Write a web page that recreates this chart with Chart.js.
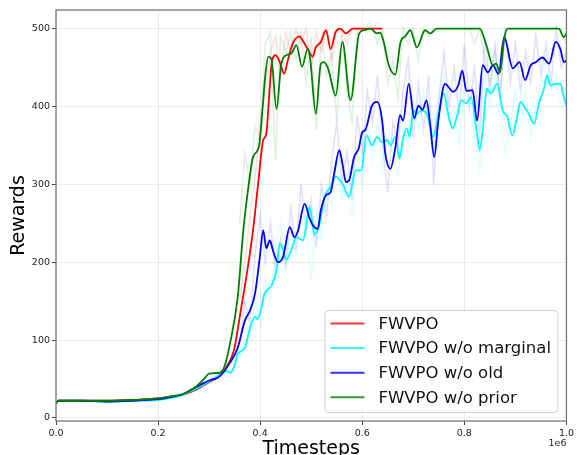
<!DOCTYPE html>
<html>
<head>
<meta charset="utf-8">
<script src="https://cdn.jsdelivr.net/npm/chart.js@4.4.0/dist/chart.umd.min.js"></script>
<style>
  html, body { margin: 0; padding: 0; background: #fff; }
</style>
</head>
<body>
<canvas id="myChart" width="577" height="455"></canvas>
<script>
const xTicks = [0, 0.2, 0.4, 0.6, 0.8, 1.0];
const yTicks = [0, 100, 200, 300, 400, 500];
const labels = ['FWVPO', 'FWVPO w/o marginal', 'FWVPO w/o old', 'FWVPO w/o prior'];
const colors = ['#ff0000', '#00ffff', '#0000ff', '#008000'];

// smoothed curves (timesteps in 1e6)
const redX = [0, 0.005, 0.05, 0.1, 0.15, 0.2, 0.22, 0.25, 0.27, 0.3,
  0.32, 0.34, 0.349, 0.363, 0.375, 0.386, 0.396, 0.406, 0.412, 0.417,
  0.422, 0.43, 0.438, 0.447, 0.454, 0.464, 0.477, 0.483, 0.493, 0.503,
  0.509, 0.519, 0.529, 0.538, 0.548, 0.557, 0.568, 0.581, 0.639];
const redY = [19, 22, 22, 22, 23, 25, 27, 30, 35, 46,
  54, 72, 88, 142, 190, 241, 301, 357, 365, 408,
  452, 466, 458, 442, 459, 481, 490, 485, 474, 464,
  476, 483, 498, 474, 496, 500, 494, 500, 500];

const cyanX = [0, 0.005, 0.05, 0.1, 0.15, 0.2, 0.22, 0.25, 0.27, 0.29,
  0.3, 0.32, 0.335, 0.342, 0.35, 0.356, 0.37, 0.38, 0.39, 0.395,
  0.409, 0.422, 0.432, 0.438, 0.445, 0.451, 0.461, 0.471, 0.484, 0.497,
  0.506, 0.516, 0.526, 0.538, 0.548, 0.561, 0.574, 0.587, 0.598, 0.608,
  0.619, 0.629, 0.639, 0.649, 0.655, 0.665, 0.673, 0.68, 0.687, 0.693,
  0.70, 0.707, 0.716, 0.726, 0.739, 0.749, 0.76, 0.768, 0.777, 0.785,
  0.794, 0.804, 0.813, 0.824, 0.83, 0.836, 0.844, 0.852, 0.864, 0.875,
  0.884, 0.894, 0.904, 0.91, 0.92, 0.926, 0.937, 0.946, 0.956, 0.962,
  0.969, 0.978, 0.988, 0.995, 1.0];
const cyanY = [19, 22, 22, 21, 22, 23, 25, 30, 36, 43,
  47, 55, 60, 58, 68, 82, 90, 115, 130, 127,
  160, 170, 190, 224, 216, 203, 216, 232, 228, 271,
  235, 248, 284, 297, 310, 301, 284, 318, 318, 363,
  350, 361, 354, 357, 350, 361, 333, 359, 372, 361,
  395, 391, 395, 391, 361, 391, 417, 391, 372, 386,
  408, 404, 412, 369, 344, 369, 423, 417, 429, 395,
  387, 363, 389, 406, 397, 391, 378, 404, 423, 440,
  427, 429, 429, 412, 401];

const blueX = [0, 0.005, 0.05, 0.1, 0.15, 0.2, 0.22, 0.25, 0.27, 0.29,
  0.3, 0.32, 0.34, 0.356, 0.37, 0.38, 0.39, 0.399, 0.406, 0.412,
  0.419, 0.425, 0.435, 0.445, 0.458, 0.467, 0.474, 0.487, 0.497, 0.506,
  0.513, 0.519, 0.529, 0.538, 0.545, 0.555, 0.561, 0.568, 0.574, 0.584,
  0.593, 0.60, 0.606, 0.619, 0.629, 0.639, 0.645, 0.655, 0.665, 0.674,
  0.68, 0.691, 0.702, 0.71, 0.718, 0.726, 0.733, 0.741, 0.749, 0.762,
  0.778, 0.788, 0.796, 0.804, 0.816, 0.825, 0.836, 0.846, 0.856, 0.867,
  0.878, 0.895, 0.908, 0.919, 0.93, 0.94, 0.953, 0.966, 0.979, 0.988,
  0.995, 1.0];
const blueY = [19, 22, 22, 21, 22, 24, 26, 31, 38, 45,
  48, 53, 70, 90, 125, 138, 160, 205, 241, 218,
  228, 215, 200, 207, 245, 232, 240, 275, 256, 245,
  243, 267, 286, 290, 314, 344, 327, 303, 305, 335,
  346, 367, 370, 401, 406, 382, 340, 320, 348, 389,
  382, 429, 385, 401, 396, 408, 377, 335, 382, 429,
  419, 427, 446, 420, 421, 382, 453, 444, 453, 442,
  489, 449, 457, 434, 453, 457, 463, 455, 483, 474,
  457, 459];

const greenX = [0, 0.005, 0.05, 0.1, 0.15, 0.2, 0.22, 0.25, 0.27, 0.29,
  0.3, 0.32, 0.33, 0.342, 0.356, 0.367, 0.377, 0.386, 0.398, 0.405,
  0.41, 0.416, 0.422, 0.432, 0.441, 0.451, 0.461, 0.471, 0.482, 0.493,
  0.498, 0.509, 0.519, 0.525, 0.533, 0.548, 0.561, 0.577, 0.594, 0.603,
  0.616, 0.629, 0.635, 0.642, 0.652, 0.665, 0.675, 0.684, 0.694, 0.707,
  0.723, 0.733, 0.746, 0.83, 0.843, 0.856, 0.862, 0.87, 0.878, 0.885,
  0.985, 0.995, 1.0];
const greenY = [19, 22, 22, 22, 23, 25, 27, 31, 38, 50,
  57, 58, 66, 99, 155, 241, 297, 335, 350, 400,
  440, 464, 461, 397, 453, 466, 468, 479, 451, 474,
  461, 391, 455, 457, 449, 414, 483, 408, 494, 498,
  500, 494, 495, 483, 453, 441, 483, 490, 498, 476,
  498, 494, 500, 500, 479, 453, 455, 444, 487, 500,
  500, 489, 494];

// faint raw episodes behind the smoothed curves
const rawX = [0.36, 0.37, 0.38, 0.39, 0.40, 0.41, 0.42, 0.43, 0.44, 0.45,
  0.46, 0.47, 0.48, 0.49, 0.50, 0.51, 0.52, 0.53, 0.54, 0.55,
  0.56, 0.57, 0.58, 0.59, 0.60, 0.61, 0.62, 0.63, 0.64, 0.65,
  0.66, 0.67, 0.68, 0.69, 0.70, 0.71, 0.72, 0.73, 0.74, 0.75,
  0.76, 0.77, 0.78, 0.79, 0.80, 0.81, 0.82, 0.83, 0.84, 0.85,
  0.86, 0.87, 0.88, 0.89, 0.90, 0.91, 0.92, 0.93, 0.94, 0.95,
  0.96, 0.97, 0.98, 0.99, 1.0];
const redRaw = [150, 200, 260, 310, 380, 420, 470, 490, 440, 495,
  470, 500, 480, 500, 450, 495, 470, 500, 460, 500,
  500, 480, 500, 500, 500, 500, 500, 500, 500];
const cyanRaw = [75, 100, 110, 150, 120, 180, 150, 220, 250, 190,
  240, 210, 260, 240, 175, 270, 230, 300, 270, 330,
  280, 310, 260, 340, 300, 380, 330, 380, 320, 370,
  340, 310, 380, 350, 410, 370, 420, 380, 340, 410,
  440, 380, 400, 350, 430, 400, 360, 320, 440, 400,
  450, 400, 340, 370, 420, 380, 420, 360, 400, 430,
  460, 420, 440, 400, 390];
const blueRaw = [95, 150, 120, 210, 260, 200, 250, 190, 230, 195,
  270, 215, 300, 240, 280, 220, 300, 260, 330, 380,
  300, 340, 280, 390, 340, 420, 380, 440, 350, 290,
  380, 350, 420, 460, 360, 430, 370, 440, 300, 410,
  470, 400, 450, 390, 480, 400, 450, 360, 490, 420,
  480, 410, 500, 430, 480, 420, 470, 430, 490, 440,
  480, 430, 500, 450, 470];
const greenRaw = [250, 340, 300, 375, 360, 480, 495, 330, 490, 470,
  495, 460, 495, 430, 490, 370, 495, 440, 470, 380,
  500, 420, 380, 500, 500, 500, 500, 480, 500, 430,
  460, 410, 500, 480, 500, 460, 500, 490, 500, 500,
  500, 500, 500, 500, 500, 500, 480, 500, 460, 430,
  470, 420, 500, 500, 500, 500, 500, 500, 500, 500,
  500, 500, 500, 500, 480];

const pts = (xs, ys) => ys.map((y, i) => ({ x: xs[i], y: y }));
const FONT = '"DejaVu Sans", sans-serif';

const smooth = [[redX, redY], [cyanX, cyanY], [blueX, blueY], [greenX, greenY]];
const raws = [redRaw, cyanRaw, blueRaw, greenRaw];

const datasets = [];
raws.forEach((r, i) => {
  datasets.push({
    label: '',
    data: pts(rawX, r),
    borderColor: Chart.helpers.color(colors[i]).alpha(0.12).rgbString(),
    borderWidth: 1.6,
    pointRadius: 0,
    showLine: true,
    order: 10
  });
});
smooth.forEach((s, i) => {
  datasets.push({
    label: labels[i],
    data: pts(s[0], s[1]),
    borderColor: colors[i],
    borderWidth: 1.8,
    pointRadius: 0,
    showLine: true,
    cubicInterpolationMode: 'monotone',
    order: 4 - i
  });
});

const frame = {
  id: 'frame',
  afterDraw(chart) {
    const ctx = chart.ctx, a = chart.chartArea;
    ctx.save();
    ctx.strokeStyle = '#777';
    ctx.lineWidth = 1.3;
    ctx.strokeRect(a.left, a.top, a.right - a.left, a.bottom - a.top);

    // legend box, lower right inside the axes
    const w = 233, h = 102;
    const lx = a.right - 9 - w, ly = a.bottom - 9 - h;
    ctx.fillStyle = 'rgba(255,255,255,0.85)';
    ctx.strokeStyle = '#d0d0d0';
    ctx.lineWidth = 1;
    ctx.beginPath();
    ctx.roundRect(lx + 0.5, ly + 0.5, w, h, 4);
    ctx.fill();
    ctx.stroke();
    ctx.font = '16.5px ' + FONT;
    ctx.textAlign = 'left';
    ctx.textBaseline = 'middle';
    labels.forEach((t, i) => {
      const yy = ly + 13.5 + i * 24.6;
      ctx.strokeStyle = Chart.helpers.color(colors[i]).alpha(0.8).rgbString();
      ctx.lineWidth = 2;
      ctx.beginPath();
      ctx.moveTo(lx + 6, yy);
      ctx.lineTo(lx + 40, yy);
      ctx.stroke();
      ctx.fillStyle = '#111';
      ctx.fillText(t, lx + 54, yy + 1);
    });

    // axis titles and offset text
    ctx.fillStyle = '#000';
    ctx.textBaseline = 'alphabetic';
    ctx.textAlign = 'center';
    ctx.font = '19px ' + FONT;
    ctx.fillText('Timesteps', (a.left + a.right) / 2, 454);
    ctx.font = '9.5px ' + FONT;
    ctx.textAlign = 'right';
    ctx.fillStyle = '#222';
    ctx.fillText('1e6', a.right, 446);
    ctx.translate(23.5, (a.top + a.bottom) / 2);
    ctx.rotate(-Math.PI / 2);
    ctx.textAlign = 'center';
    ctx.fillStyle = '#000';
    ctx.font = '19px ' + FONT;
    ctx.fillText('Rewards', 0, 0);
    ctx.restore();
  }
};

const config = {
  type: 'scatter',
  data: { datasets: datasets },
  options: {
    responsive: false,
    animation: false,
    devicePixelRatio: 1,
    layout: { autoPadding: false, padding: { left: 0, right: 5, top: 10, bottom: 0 } },
    plugins: { legend: { display: false }, tooltip: { enabled: false } },
    scales: {
      x: {
        type: 'linear',
        min: 0,
        max: 1,
        afterFit: s => { s.height = 34; },
        afterBuildTicks: s => { s.ticks = xTicks.map(v => ({ value: v })); },
        ticks: {
          callback: v => v.toFixed(1),
          font: { family: FONT, size: 9.5 },
          color: '#222',
          padding: 3,
          maxRotation: 0
        },
        grid: { color: '#ebebeb', lineWidth: 1, tickLength: 4, tickColor: '#444' },
        border: { display: false }
      },
      y: {
        min: -4,
        max: 524,
        afterFit: s => { s.width = 56; },
        afterBuildTicks: s => { s.ticks = yTicks.map(v => ({ value: v })); },
        ticks: {
          font: { family: FONT, size: 9.5 },
          color: '#222',
          padding: 2
        },
        grid: { color: '#ebebeb', lineWidth: 1, tickLength: 4, tickColor: '#444' },
        border: { display: false }
      }
    }
  },
  plugins: [frame]
};

const myChart = new Chart(document.getElementById('myChart'), config);
</script>
</body>
</html>
